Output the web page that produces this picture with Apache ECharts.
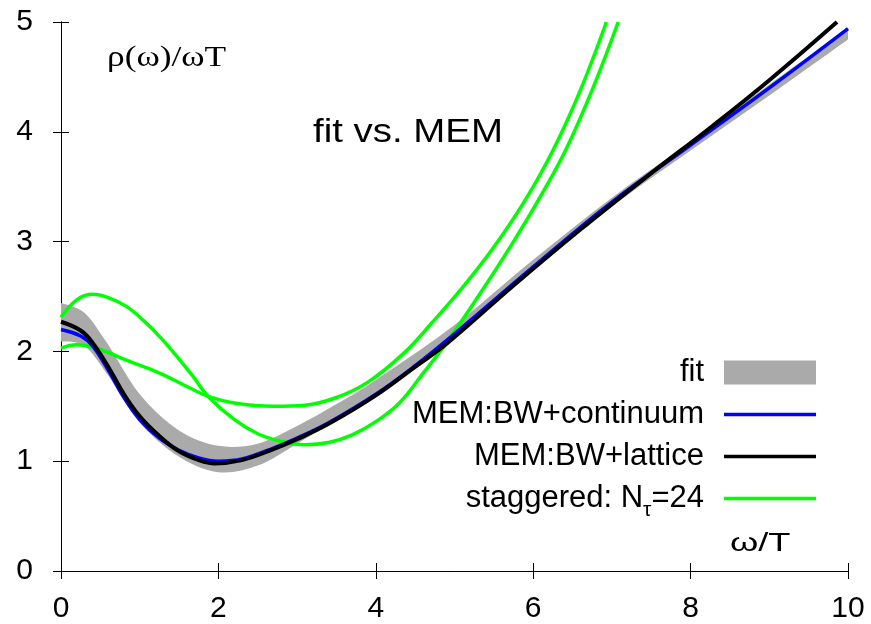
<!DOCTYPE html>
<html>
<head>
<meta charset="utf-8">
<script src="https://cdn.jsdelivr.net/npm/echarts@6/dist/echarts.min.js"></script>
<style>html,body{margin:0;padding:0;background:#fff;}#c{width:871px;height:624px;}</style>
</head>
<body>
<div id="c"></div>
<script>
// ---- data ----
const xTicks = [0, 2, 4, 6, 8, 10];
const yTicks = [0, 1, 2, 3, 4, 5];

const fitX     = [0, 0.3, 0.6, 1.0, 1.5, 2.0, 2.5, 3.0, 3.5, 4.0, 5.0, 6.0, 7.0, 8.0, 9.0, 10];
const fitLower = [2.09, 2.05, 1.78, 1.35, 1.04, 0.90, 0.96, 1.16, 1.38, 1.62, 2.14, 2.745, 3.32, 3.83, 4.33, 4.84];
const fitUpper = [2.44, 2.35, 2.06, 1.61, 1.28, 1.14, 1.16, 1.32, 1.52, 1.74, 2.24, 2.835, 3.40, 3.91, 4.43, 4.94];

const blueX = [0, 0.25, 0.4, 0.6, 0.8, 1.0, 1.25, 1.5, 1.75, 2.0, 2.3, 2.7, 3.0, 3.4, 4.0, 4.5, 5.0, 6.0, 7.0, 8.0, 9.0, 10.0];
const blueY = [2.20, 2.14, 2.05, 1.83, 1.58, 1.38, 1.21, 1.10, 1.03, 1.00, 1.02, 1.12, 1.21, 1.35, 1.61, 1.87, 2.16, 2.77, 3.36, 3.88, 4.40, 4.94];

const blackX = [0, 0.25, 0.4, 0.6, 0.8, 1.0, 1.25, 1.5, 1.75, 1.95, 2.3, 2.7, 3.0, 3.4, 4.0, 4.5, 4.9, 5.75, 6.6, 7.44, 8.29, 9.0, 9.86];
const blackY = [2.27, 2.19, 2.08, 1.86, 1.61, 1.41, 1.23, 1.09, 1.01, 0.98, 1.01, 1.11, 1.20, 1.34, 1.60, 1.86, 2.07, 2.60, 3.11, 3.59, 4.06, 4.47, 5.0];

const greenAX = [0, 0.2, 0.4, 0.6, 0.83, 1.05, 1.26, 1.5, 1.68, 1.87, 2.2, 2.5, 2.8, 3.1, 3.4, 3.7, 4.0, 4.3, 4.6, 4.9, 5.3, 5.75, 6.1, 6.43, 6.76, 7.08];
const greenAY = [2.31, 2.47, 2.52, 2.49, 2.41, 2.28, 2.13, 1.93, 1.77, 1.59, 1.38, 1.25, 1.18, 1.15, 1.17, 1.24, 1.36, 1.53, 1.80, 2.08, 2.50, 3.00, 3.42, 3.86, 4.40, 5.0];

const greenBX = [0, 0.2, 0.4, 0.6, 0.83, 1.26, 1.6, 1.87, 2.2, 2.7, 3.1, 3.5, 3.9, 4.35, 4.7, 5.1, 5.5, 5.9, 6.25, 6.6, 6.93];
const greenBY = [2.03, 2.06, 2.04, 1.99, 1.92, 1.80, 1.68, 1.59, 1.53, 1.50, 1.51, 1.58, 1.72, 1.98, 2.25, 2.58, 2.95, 3.38, 3.83, 4.38, 5.0];

const legendNames = ['fit', 'MEM:BW+continuum', 'MEM:BW+lattice', 'staggered: N\u03C4=24'];

// ---- build ----
const zip = (xs, ys) => xs.map((x, i) => [x, ys[i]]);
const FONT = '"Liberation Sans", Arial, Helvetica, sans-serif';
const SERIF = '"Liberation Serif", "Times New Roman", serif';

// Catmull-Rom spline through pixel points -> SVG path segments
function splineSegs(pts) {
  let d = '';
  for (let i = 0; i < pts.length - 1; i++) {
    const p0 = pts[Math.max(i - 1, 0)], p1 = pts[i], p2 = pts[i + 1], p3 = pts[Math.min(i + 2, pts.length - 1)];
    const c1 = [p1[0] + (p2[0] - p0[0]) / 6, p1[1] + (p2[1] - p0[1]) / 6];
    const c2 = [p2[0] - (p3[0] - p1[0]) / 6, p2[1] - (p3[1] - p1[1]) / 6];
    d += ' C' + c1[0] + ',' + c1[1] + ' ' + c2[0] + ',' + c2[1] + ' ' + p2[0] + ',' + p2[1];
  }
  return d;
}

const chart = echarts.init(document.getElementById('c'), null, {renderer: 'canvas'});

const axisCommon = {
  type: 'value', min: 0, interval: 2, max: 10,
  axisLine: {show: true, lineStyle: {color: '#000', width: 1}},
  axisTick: {show: true, inside: false, length: 8, lineStyle: {color: '#000', width: 1}},
  splitLine: {show: false}
};
const lineIcon = 'path://M0,0H92V3.5H0Z';

const option = {
  animation: false,
  backgroundColor: '#fff',
  grid: {left: 61, right: 23, top: 22, bottom: 53, containLabel: false},
  xAxis: [
    Object.assign({}, axisCommon, {position: 'bottom',
      axisLabel: {margin: 23, fontSize: 30, color: '#000', fontFamily: FONT}}),
    Object.assign({}, axisCommon, {position: 'top', axisLabel: {show: false}})
  ],
  yAxis: [
    Object.assign({}, axisCommon, {min: 0, max: 5, interval: 1, position: 'left',
      axisLabel: {margin: 28, fontSize: 30, color: '#000', fontFamily: FONT}}),
    Object.assign({}, axisCommon, {min: 0, max: 5, interval: 1, position: 'right', axisLabel: {show: false}})
  ],
  legend: {
    orient: 'vertical', align: 'right', right: 50, top: 352,
    itemWidth: 92, itemHeight: 24, itemGap: 11,
    selectedMode: false,
    textStyle: {fontSize: 31, lineHeight: 30, color: '#000', fontFamily: FONT, padding: [0, 15, 0, 0],
      rich: {a: {fontSize: 31, lineHeight: 30, fontFamily: FONT, color: '#000'},
             s: {fontSize: 21, lineHeight: 14, fontFamily: FONT, color: '#000', verticalAlign: 'top', padding: [16, 0, 0, 0]}}},
    formatter: function (name) {
      if (name === legendNames[3]) return '{a|staggered: N}{s|\u03C4}{a|=24}';
      return name;
    },
    data: [
      {name: legendNames[0], icon: 'rect', itemStyle: {color: '#aaaaaa'}},
      {name: legendNames[1], icon: lineIcon, itemStyle: {color: '#0000ff'}},
      {name: legendNames[2], icon: lineIcon, itemStyle: {color: '#000000'}},
      {name: legendNames[3], icon: lineIcon, itemStyle: {color: '#00ff00'}}
    ]
  },
  series: [
    {name: legendNames[0], type: 'custom', clip: true, silent: true,
     itemStyle: {color: '#aaaaaa'},
     data: fitX.map((x, i) => [x, fitLower[i], fitUpper[i]]),
     encode: {x: 0, y: [1, 2]},
     renderItem: function (params, api) {
       if (params.dataIndex !== 0) return null;
       const up = fitX.map((x, i) => api.coord([x, fitUpper[i]]));
       const lo = fitX.map((x, i) => api.coord([x, fitLower[i]])).reverse();
       let d = 'M' + up[0][0] + ',' + up[0][1] + splineSegs(up);
       d += ' L' + lo[0][0] + ',' + lo[0][1] + splineSegs(lo) + ' Z';
       return {type: 'path', shape: {pathData: d}, style: {fill: '#aaaaaa', stroke: null}};
     }},
    {name: legendNames[3], type: 'line', data: zip(greenAX, greenAY), smooth: 0.4, symbol: 'none',
     lineStyle: {color: '#00ff00', width: 3.5}, itemStyle: {color: '#00ff00'}},
    {name: legendNames[3], type: 'line', data: zip(greenBX, greenBY), smooth: 0.4, symbol: 'none',
     lineStyle: {color: '#00ff00', width: 3.5}, itemStyle: {color: '#00ff00'}},
    {name: legendNames[1], type: 'line', data: zip(blueX, blueY), smooth: 0.4, symbol: 'none',
     lineStyle: {color: '#0000ff', width: 3.5}, itemStyle: {color: '#0000ff'}},
    {name: legendNames[2], type: 'line', data: zip(blackX, blackY), smooth: 0.4, symbol: 'none',
     lineStyle: {color: '#000000', width: 4}, itemStyle: {color: '#000000'}}
  ],
  graphic: [
    {type: 'text', x: 107, y: 58, scaleX: 1.22, silent: true, z: 100,
     style: {x: 0, y: 0, text: '\u03C1(\u03C9)/\u03C9T', font: '29px ' + SERIF, fill: '#000', verticalAlign: 'middle', align: 'left'}},
    {type: 'text', x: 313, y: 133, scaleX: 1.13, silent: true, z: 100,
     style: {x: 0, y: 0, text: 'fit vs. MEM', font: '34px ' + FONT, fill: '#000', verticalAlign: 'middle', align: 'left'}},
    {type: 'text', x: 730, y: 544, scaleX: 1.45, silent: true, z: 100,
     style: {x: 0, y: 0, text: '\u03C9/T', font: '25px ' + FONT, fill: '#000', verticalAlign: 'middle', align: 'left'}}
  ]
};
chart.setOption(option);
</script>
</body>
</html>
